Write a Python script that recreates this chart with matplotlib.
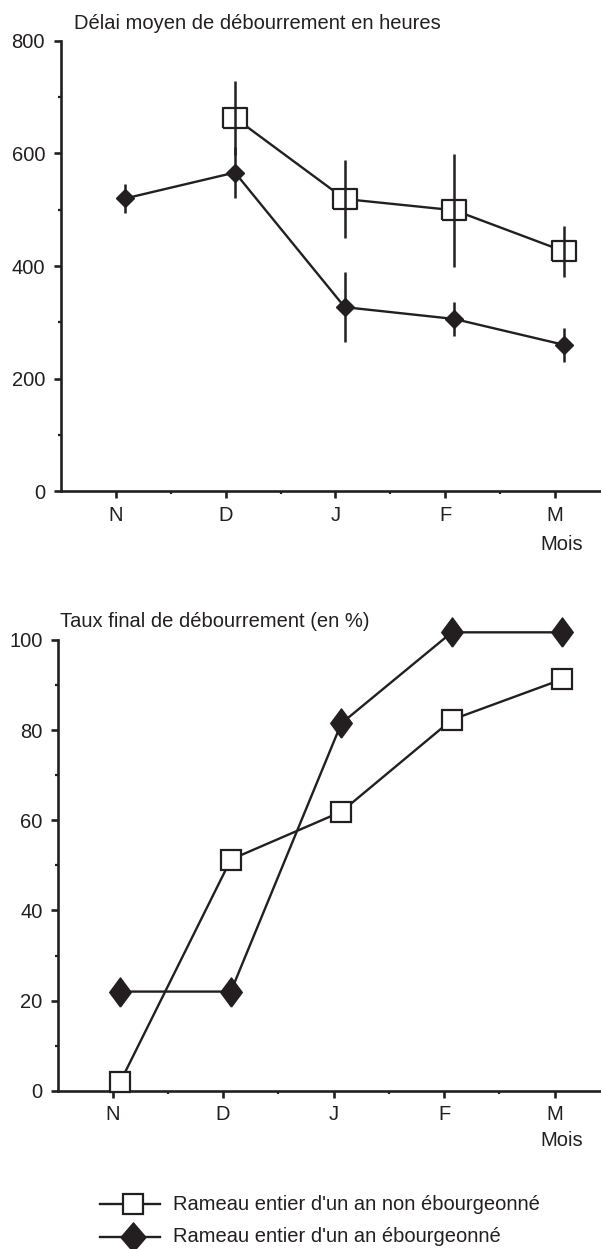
#!/usr/bin/env python3
"""
Delai moyen et taux final de debourrement, rameaux entiers d'un an
"""

import matplotlib
matplotlib.use('Agg')
import matplotlib.pyplot as plt
from matplotlib.lines import Line2D
import numpy as np

plt.rcParams['font.family'] = ['Liberation Sans', 'DejaVu Sans']

INK = '#231f20'
FS = 14.5

months = ['N', 'D', 'J', 'F', 'M']

# Delai moyen de debourrement (heures)
delai_ebourg = [520, 566, 327, 306, 260]
delai_ebourg_err = [25, 46, 62, 30, 30]
delai_non_ebourg = [np.nan, 663, 519, 499, 426]
delai_non_ebourg_err = [np.nan, 66, 70, 100, 45]

# Taux final de debourrement (%)
taux_ebourg = [22, 22, 81.5, 101.7, 101.7]
taux_non_ebourg = [2, 51.3, 61.9, 82.3, 91.3]

labels = ["Rameau entier d'un an non ébourgeonné",
          "Rameau entier d'un an ébourgeonné"]

# marker shapes
RECT = [(-0.5, -0.43), (0.5, -0.43), (0.5, 0.43), (-0.5, 0.43), (-0.5, -0.43)]
TALL_D = [(0, -0.5), (0.37, 0), (0, 0.5), (-0.37, 0), (0, -0.5)]
WIDE_D = [(0, -0.5), (0.43, 0), (0, 0.5), (-0.43, 0), (0, -0.5)]


def style_axes(ax, ymax, major, minor, xlim, mois_y):
    ax.spines['top'].set_visible(False)
    ax.spines['right'].set_visible(False)
    for s in ('left', 'bottom'):
        ax.spines[s].set_linewidth(1.9)
        ax.spines[s].set_color(INK)
    ax.set_ylim(0, ymax)
    ax.set_xlim(*xlim)
    ax.set_yticks(np.arange(0, ymax + 1, major))
    ax.set_yticks(np.arange(minor, ymax, major), minor=True)
    ax.set_xticks(range(len(months)))
    ax.set_xticklabels(months)
    ax.set_xticks(np.arange(0.5, len(months) - 0.5, 1), minor=True)
    ax.tick_params(which='major', length=5, width=1.9, color=INK,
                   labelsize=FS, labelcolor=INK)
    ax.tick_params(axis='y', which='major', pad=6.5)
    ax.tick_params(axis='x', which='major', pad=5.5)
    ax.tick_params(which='minor', length=2, width=1.6, color=INK)
    ax.text(0.928, mois_y, 'Mois', transform=ax.transAxes,
            ha='center', va='center', fontsize=FS, color=INK)


fig = plt.figure(figsize=(6.01, 12.49), dpi=100)
fig.patch.set_facecolor('white')

x = np.arange(len(months))

# ---- top panel
ax1 = fig.add_axes([0.1015, 0.6066, 0.8985, 0.3608])
style_axes(ax1, 800, 200, 100, (-0.5, 4.42), -0.1176)
xt = x + 0.085
ax1.plot(xt, delai_non_ebourg, color=INK, lw=1.7, marker=RECT, ms=17.5,
         mfc='white', mec=INK, mew=1.6, zorder=3, clip_on=False)
ax1.plot(xt, delai_ebourg, color=INK, lw=1.7, marker='D', ms=9.5,
         mfc=INK, mec=INK, mew=1, zorder=3.5, clip_on=False)
ax1.vlines(xt, np.array(delai_non_ebourg) - np.array(delai_non_ebourg_err),
           np.array(delai_non_ebourg) + np.array(delai_non_ebourg_err),
           color=INK, lw=1.8, zorder=5)
ax1.vlines(xt, np.array(delai_ebourg) - np.array(delai_ebourg_err),
           np.array(delai_ebourg) + np.array(delai_ebourg_err),
           color=INK, lw=1.8, zorder=5)
ax1.text(0.024, 1.039, 'Délai moyen de débourrement en heures',
         transform=ax1.transAxes, ha='left', va='center',
         fontsize=FS, color=INK)

# ---- bottom panel
ax2 = fig.add_axes([0.0973, 0.1267, 0.9027, 0.3609])
style_axes(ax2, 100, 20, 10, (-0.49, 4.42), -0.111)
xb = x + 0.07
ax2.plot(xb, taux_ebourg, color=INK, lw=1.7, marker=TALL_D, ms=21,
         mfc=INK, mec=INK, mew=1, zorder=3, clip_on=False)
ax2.plot(xb, taux_non_ebourg, color=INK, lw=1.7, marker='s', ms=14.4,
         mfc='white', mec=INK, mew=1.6, zorder=4, clip_on=False)
ax2.text(0.003, 1.04, 'Taux final de débourrement (en %)',
         transform=ax2.transAxes, ha='left', va='center',
         fontsize=FS, color=INK)

# ---- legend, placed by hand in pixel units of the figure
W, H = fig.get_size_inches() * fig.dpi
rows = [(1204, dict(marker='s', ms=14.4, mfc='white', mew=1.6)),
        (1237, dict(marker=WIDE_D, ms=21, mfc=INK, mew=1))]
for (ypx, mk), label in zip(rows, labels):
    yf = 1 - ypx / H
    fig.add_artist(Line2D([100 / W, 160 / W], [yf, yf], color=INK, lw=1.7))
    fig.add_artist(Line2D([133 / W], [yf], color=INK, lw=0, mec=INK, **mk))
    fig.text(173 / W, yf, label, ha='left', va='center',
             fontsize=FS, color=INK)

fig.savefig('out.png', dpi=100, facecolor='white')
